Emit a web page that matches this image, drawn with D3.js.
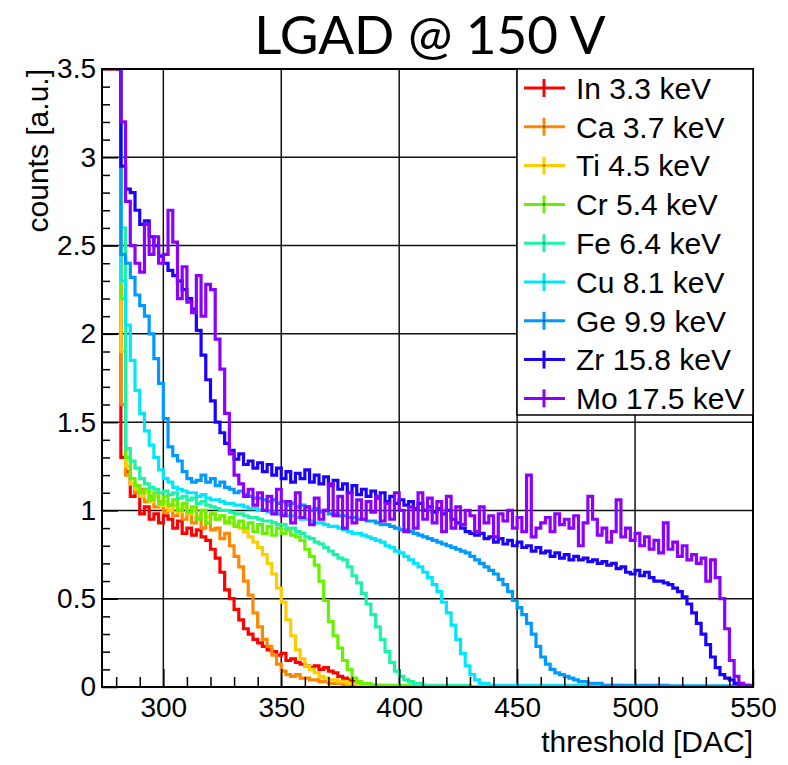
<!DOCTYPE html>
<html>
<head>
  <meta charset="UTF-8">
  <title>LGAD @ 150 V</title>
  <script src="https://d3js.org/d3.v7.min.js"></script>
  <style>
    body {
      margin: 0;
      padding: 0;
      background: #fff;
    }
    svg text {
      font-family: "Liberation Sans", Arial, sans-serif;
      fill: #000;
    }
    .title {
      font-family: Lato, "Open Sans", sans-serif !important;
      font-size: 53px;
    }
    .tick text {
      font-size: 28px;
    }
    .axis-title {
      font-size: 30px;
    }
    .legend text {
      font-size: 30px;
    }
    .grid line {
      stroke: #111;
      stroke-width: 1.5;
    }
    .hist {
      fill: none;
      stroke-width: 3.2;
      stroke-linejoin: miter;
    }
  </style>
</head>
<body>
  <div id="chart"></div>

  <script>
    // histogram binning: 2 DAC wide bins starting at 274
    const binStart = 274;
    const binWidth = 2;
    const xDomain = [274, 550];
    const yDomain = [0, 3.5];

    const labels = ["In 3.3 keV", "Ca 3.7 keV", "Ti 4.5 keV", "Cr 5.4 keV", "Fe 6.4 keV",
                    "Cu 8.1 keV", "Ge 9.9 keV", "Zr 15.8 keV", "Mo 17.5 keV"];
    const colors = ["#ff0000", "#ff8800", "#ffcc00", "#66f200", "#1ef2a8",
                    "#00e6ff", "#0099ff", "#1a00ff", "#8c00ff"];

    const xMajorTicks = [300, 350, 400, 450, 500, 550];
    const yMajorTicks = [0, 0.5, 1, 1.5, 2, 2.5, 3, 3.5];

    const inValues = [
      5, 5, 5, 5, 1.3, 1.22, 1.08, 1.12, 0.98, 1.02,
      0.95, 0.98, 0.93, 0.97, 0.95, 0.9, 0.94, 0.87, 0.9, 0.86,
      0.89, 0.85, 0.83, 0.78, 0.73, 0.65, 0.55, 0.5, 0.44, 0.38,
      0.33, 0.3, 0.27, 0.25, 0.23, 0.21, 0.2, 0.18, 0.19, 0.15,
      0.16, 0.14, 0.13, 0.12, 0.11, 0.12, 0.1, 0.11, 0.09, 0.08,
      0.06, 0.05, 0.04, 0.03, 0.02, 0.01, 0.01, 0.01, 0, 0,
      0, 0, 0, 0, 0, 0, 0, 0, 0, 0,
      0, 0, 0, 0, 0, 0, 0, 0, 0, 0,
      0, 0, 0, 0, 0, 0, 0, 0, 0, 0,
      0, 0, 0, 0, 0, 0, 0, 0, 0, 0,
      0, 0, 0, 0, 0, 0, 0, 0, 0, 0,
      0, 0, 0, 0, 0, 0, 0, 0, 0, 0,
      0, 0, 0, 0, 0, 0, 0, 0, 0, 0,
      0, 0, 0, 0, 0, 0, 0, 0
    ];

    const caValues = [
      null, null, null, 5, 1.6, 1.2, 1.15, 1.1, 1.12, 1.05,
      1.08, 1.02, 1.05, 0.99, 1.03, 0.97, 1.0, 0.95, 0.98, 0.93,
      0.96, 0.9, 0.93, 0.89, 0.9, 0.84, 0.87, 0.8, 0.74, 0.68,
      0.6, 0.52, 0.42, 0.34, 0.27, 0.23, 0.18, 0.13, 0.09, 0.07,
      0.06, 0.07, 0.05, 0.05, 0.04, 0.04, 0.03, 0.03, 0.02, 0.02,
      0.02, 0.01, 0.01, 0.01, 0.01, 0.01, 0.01, 0.01, 0.01, 0,
      0, 0, 0, 0, 0, 0, 0, 0, 0, 0,
      0, 0, 0, 0, 0, 0, 0, 0, 0, 0,
      0, 0, 0, 0, 0, 0, 0, 0, 0, 0,
      0, 0, 0, 0, 0, 0, 0, 0, 0, 0,
      0, 0, 0, 0, 0, 0, 0, 0, 0, 0,
      0, 0, 0, 0, 0, 0, 0, 0, 0, 0,
      0, 0, 0, 0, 0, 0, 0, 0, 0, 0,
      0, 0, 0, 0, 0, 0, 0, 0
    ];

    const tiValues = [
      null, null, null, 5, 1.9, 1.25, 1.15, 1.12, 1.08, 1.1,
      1.05, 1.08, 1.03, 1.05, 1.0, 1.03, 0.99, 1.02, 0.98, 1.0,
      0.97, 1.0, 0.96, 0.98, 0.95, 0.97, 0.94, 0.93, 0.92, 0.9,
      0.88, 0.85, 0.82, 0.79, 0.75, 0.7, 0.64, 0.56, 0.48, 0.38,
      0.29, 0.21, 0.16, 0.12, 0.1, 0.08, 0.06, 0.05, 0.04, 0.04,
      0.03, 0.03, 0.02, 0.02, 0.01, 0.01, 0.01, 0.01, 0.01, 0.01,
      0.01, 0.01, 0.01, 0, 0, 0, 0, 0, 0, 0,
      0, 0, 0, 0, 0, 0, 0, 0, 0, 0,
      0, 0, 0, 0, 0, 0, 0, 0, 0, 0,
      0, 0, 0, 0, 0, 0, 0, 0, 0, 0,
      0, 0, 0, 0, 0, 0, 0, 0, 0, 0,
      0, 0, 0, 0, 0, 0, 0, 0, 0, 0,
      0, 0, 0, 0, 0, 0, 0, 0, 0, 0,
      0, 0, 0, 0, 0, 0, 0, 0
    ];

    const crValues = [
      null, null, null, 5, 2.2, 1.3, 1.18, 1.14, 1.1, 1.12,
      1.06, 1.1, 1.04, 1.08, 1.03, 1.06, 1.0, 1.04, 0.99, 1.02,
      0.95, 1.0, 0.93, 0.98, 0.95, 0.97, 0.93, 0.96, 0.91, 0.94,
      0.9, 0.93, 0.88, 0.92, 0.87, 0.91, 0.86, 0.9, 0.87, 0.89,
      0.86, 0.85, 0.83, 0.78, 0.74, 0.69, 0.6, 0.49, 0.37, 0.29,
      0.22, 0.15, 0.1, 0.05, 0.03, 0.02, 0.02, 0.01, 0.01, 0.01,
      0.01, 0.01, 0.01, 0.01, 0.01, 0.01, 0.01, 0.01, 0, 0,
      0, 0, 0, 0, 0, 0, 0, 0, 0, 0,
      0, 0, 0, 0, 0, 0, 0, 0, 0, 0,
      0, 0, 0, 0, 0, 0, 0, 0, 0, 0,
      0, 0, 0, 0, 0, 0, 0, 0, 0, 0,
      0, 0, 0, 0, 0, 0, 0, 0, 0, 0,
      0, 0, 0, 0, 0, 0, 0, 0, 0, 0,
      0, 0, 0, 0, 0, 0, 0, 0
    ];

    const feValues = [
      null, null, null, 5, 2.6, 1.35, 1.28, 1.24, 1.18, 1.15,
      1.13, 1.12, 1.1, 1.11, 1.09, 1.1, 1.07, 1.08, 1.06, 1.07,
      1.04, 1.05, 1.03, 1.02, 1.01, 1.0, 1.0, 0.99, 0.98, 0.98,
      0.97, 0.96, 0.96, 0.95, 0.94, 0.94, 0.93, 0.92, 0.92, 0.9,
      0.9, 0.88, 0.87, 0.85, 0.84, 0.82, 0.81, 0.79, 0.77, 0.75,
      0.73, 0.72, 0.68, 0.63, 0.59, 0.53, 0.47, 0.41, 0.34, 0.27,
      0.2, 0.14, 0.09, 0.06, 0.04, 0.03, 0.02, 0.02, 0.01, 0.01,
      0.01, 0.01, 0.01, 0.01, 0.01, 0.01, 0.01, 0.01, 0, 0,
      0, 0, 0, 0, 0, 0, 0, 0, 0, 0,
      0, 0, 0, 0, 0, 0, 0, 0, 0, 0,
      0, 0, 0, 0, 0, 0, 0, 0, 0, 0,
      0, 0, 0, 0, 0, 0, 0, 0, 0, 0,
      0, 0, 0, 0, 0, 0, 0, 0, 0, 0,
      0, 0, 0, 0, 0, 0, 0, 0
    ];

    const cuValues = [
      null, null, null, 5, 2.3, 2.05, 1.85, 1.68, 1.55, 1.45,
      1.37, 1.3, 1.23, 1.18, 1.16, 1.13, 1.12, 1.11, 1.1, 1.1,
      1.08, 1.09, 1.07, 1.06, 1.06, 1.05, 1.04, 1.04, 1.03, 1.03,
      1.02, 1.01, 1.01, 1.0, 1.0, 0.99, 0.99, 0.98, 0.98, 0.97,
      0.97, 0.96, 0.95, 0.95, 0.94, 0.93, 0.93, 0.92, 0.91, 0.91,
      0.9, 0.89, 0.88, 0.87, 0.87, 0.86, 0.85, 0.84, 0.83, 0.82,
      0.8, 0.79, 0.77, 0.76, 0.74, 0.72, 0.7, 0.68, 0.65, 0.62,
      0.58, 0.54, 0.48, 0.42, 0.35, 0.27, 0.19, 0.12, 0.07, 0.04,
      0.02, 0.02, 0.01, 0.01, 0.01, 0.01, 0.01, 0.01, 0.01, 0.01,
      0.01, 0.01, 0.01, 0.01, 0.01, 0.01, 0.01, 0.01, 0.01, 0.01,
      0.01, 0.01, 0.01, 0.01, 0.01, 0.01, 0.01, 0.01, 0.01, 0.01,
      0.005, 0.005, 0.005, 0.005, 0.005, 0.005, 0.005, 0.005, 0.005, 0.005,
      0.005, 0.005, 0.005, 0.005, 0.005, 0.005, 0.005, 0.005, 0.005, 0.005,
      0.005, 0.005, 0.005, 0.005, 0.005, 0.005, 0.005, 0.005
    ];

    const geValues = [
      null, null, null, 5, 2.45, 2.4, 2.32, 2.22, 2.16, 2.1,
      2.0, 1.86, 1.72, 1.52, 1.36, 1.31, 1.28, 1.22, 1.18, 1.16,
      1.17, 1.2, 1.16, 1.18, 1.14, 1.16, 1.13, 1.12, 1.1, 1.11,
      1.09, 1.08, 1.07, 1.07, 1.06, 1.05, 1.06, 1.04, 1.05, 1.03,
      1.04, 1.02, 1.03, 1.02, 1.0, 1.01, 0.99, 1.0, 0.98, 0.98,
      0.97, 0.97, 0.96, 0.96, 0.95, 0.95, 0.94, 0.94, 0.93, 0.92,
      0.92, 0.91, 0.9, 0.89, 0.89, 0.88, 0.87, 0.86, 0.85, 0.84,
      0.83, 0.82, 0.81, 0.8, 0.79, 0.78, 0.77, 0.76, 0.74, 0.72,
      0.7, 0.68, 0.66, 0.64, 0.61, 0.58, 0.54, 0.49, 0.45, 0.41,
      0.36, 0.3, 0.23, 0.17, 0.13, 0.1, 0.08, 0.07, 0.06, 0.05,
      0.04, 0.03, 0.03, 0.02, 0.02, 0.02, 0.01, 0.01, 0.01, 0.01,
      0.01, 0.01, 0.01, 0.01, 0.01, 0.01, 0.01, 0.01, 0.01, 0.01,
      0.005, 0.005, 0.005, 0.005, 0.005, 0.005, 0.005, 0.005, 0.005, 0.005,
      0.005, 0.005, 0.005, 0.005, 0.005, 0.005, 0.005, 0.005
    ];

    const zrValues = [
      null, null, null, 5, 2.95, 2.82, 2.8, 2.7, 2.62, 2.64,
      2.55, 2.5, 2.44, 2.4, 2.36, 2.33, 2.3, 2.25, 2.2, 2.14,
      2.02, 1.88, 1.74, 1.62, 1.5, 1.44, 1.38, 1.34, 1.29, 1.32,
      1.26, 1.28, 1.24, 1.27, 1.22, 1.26, 1.2, 1.24, 1.18, 1.22,
      1.16, 1.21, 1.18, 1.23, 1.16, 1.2, 1.15, 1.19, 1.14, 1.17,
      1.12, 1.15, 1.1, 1.14, 1.09, 1.12, 1.08, 1.11, 1.07, 1.1,
      1.05, 1.08, 1.04, 1.06, 1.03, 1.05, 1.01, 1.04, 1.0, 1.02,
      0.99, 1.01, 0.98, 1.0, 0.95, 0.93, 0.9, 0.88, 0.87, 0.86,
      0.87, 0.84, 0.85, 0.82, 0.84, 0.81, 0.83, 0.8, 0.82, 0.79,
      0.8, 0.77, 0.79, 0.76, 0.77, 0.74, 0.76, 0.73, 0.75, 0.72,
      0.74, 0.72, 0.73, 0.71, 0.72, 0.7, 0.71, 0.69, 0.7, 0.67,
      0.68, 0.65, 0.64, 0.66, 0.63, 0.65, 0.62, 0.6, 0.6, 0.59,
      0.58, 0.56, 0.54, 0.51, 0.47, 0.42, 0.36, 0.3, 0.24, 0.17,
      0.11, 0.07, 0.05, 0.04, 0.02, 0.01, 0.01, 0
    ];

    const moValues = [
      null, null, null, 5, 3.2, 2.75, 2.5, 2.4, 2.35, 2.62,
      2.45, 2.55, 2.4, 2.45, 2.7, 2.52, 2.2, 2.38, 2.18, 2.12,
      2.33, 2.1, 2.28, 2.25, 1.97, 1.8, 1.55, 1.32, 1.2, 1.15,
      1.08, 1.12, 1.03, 1.1, 1.0, 1.08, 0.98, 1.12, 0.97, 1.05,
      0.93, 1.1, 0.96, 1.02, 0.92, 1.07, 0.95, 1.0, 1.15, 0.97,
      1.08, 0.9, 1.1, 0.93, 1.06, 0.95, 1.05, 0.99, 1.08, 0.94,
      1.04, 0.95, 1.1, 1.0, 0.88, 1.02, 0.9, 1.1, 0.95, 1.07,
      0.93, 1.05, 0.88, 1.08, 0.9, 1.02, 0.92, 1.0, 0.97, 0.88,
      1.02, 0.93, 0.97, 0.85, 0.98, 0.94, 1.0, 0.9, 0.96, 0.88,
      1.2, 0.85, 0.9, 0.93, 0.96, 0.88, 0.98, 0.92, 0.95, 0.9,
      0.97, 0.8, 0.93, 1.08, 0.95, 0.86, 0.9, 0.82, 0.88, 1.06,
      0.85, 0.9, 0.83, 0.87, 0.8, 0.85, 0.78, 0.83, 0.76, 0.93,
      0.78, 0.82, 0.74, 0.8, 0.72, 0.75, 0.7, 0.73, 0.6, 0.72,
      0.62, 0.5, 0.33, 0.15, 0.06, 0.02, 0.01, 0.01
    ];

    const seriesValues = [inValues, caValues, tiValues, crValues, feValues,
                          cuValues, geValues, zrValues, moValues];

    const width = 788;
    const height = 765;
    const margin = { top: 69, right: 35, bottom: 78, left: 102 };
    const plotW = width - margin.left - margin.right;
    const plotH = height - margin.top - margin.bottom;

    const svg = d3.select("#chart").append("svg")
      .attr("width", width)
      .attr("height", height);

    const g = svg.append("g")
      .attr("transform", `translate(${margin.left},${margin.top})`);

    const x = d3.scaleLinear().domain(xDomain).range([0, plotW]);
    const y = d3.scaleLinear().domain(yDomain).range([plotH, 0]);

    // grid
    const grid = g.append("g").attr("class", "grid");
    grid.selectAll(".gx")
      .data(xMajorTicks.filter(d => d < xDomain[1]))
      .enter().append("line")
      .attr("x1", d => x(d)).attr("x2", d => x(d))
      .attr("y1", 0).attr("y2", plotH);
    grid.selectAll(".gy")
      .data(yMajorTicks.filter(d => d > yDomain[0] && d < yDomain[1]))
      .enter().append("line")
      .attr("x1", 0).attr("x2", plotW)
      .attr("y1", d => y(d)).attr("y2", d => y(d));

    // histograms
    svg.append("defs").append("clipPath").attr("id", "plot-clip")
      .append("rect").attr("width", plotW).attr("height", plotH);

    const line = d3.line()
      .defined(d => d.v !== null)
      .curve(d3.curveStepAfter)
      .x(d => x(d.x))
      .y(d => y(Math.min(d.v, yDomain[1])));

    const histG = g.append("g").attr("clip-path", "url(#plot-clip)");
    seriesValues.forEach((vals, k) => {
      const pts = vals.map((v, i) => ({ x: binStart + i * binWidth, v: v }));
      pts.push({ x: binStart + vals.length * binWidth, v: vals[vals.length - 1] });
      histG.append("path")
        .datum(pts)
        .attr("class", "hist")
        .attr("stroke", colors[k])
        .attr("d", line);
    });

    // frame
    g.append("rect")
      .attr("width", plotW)
      .attr("height", plotH)
      .attr("fill", "none")
      .attr("stroke", "#000")
      .attr("stroke-width", 2);

    // axes (ticks pointing inside, ROOT style)
    const xMinor = d3.range(280, 550, 10).filter(d => !xMajorTicks.includes(d));
    g.append("g")
      .attr("transform", `translate(0,${plotH})`)
      .call(d3.axisBottom(x).tickValues(xMinor).tickSize(-10).tickFormat(""))
      .call(a => a.select(".domain").remove())
      .call(a => a.selectAll("line").attr("stroke", "#000").attr("stroke-width", 1.5));

    g.append("g")
      .attr("transform", `translate(0,${plotH})`)
      .call(d3.axisBottom(x).tickValues(xMajorTicks).tickSize(-18).tickPadding(10).tickFormat(d3.format("d")))
      .call(a => a.select(".domain").remove())
      .call(a => a.selectAll("line").attr("stroke", "#000").attr("stroke-width", 1.5));

    const yMinor = d3.range(0.1, 3.5, 0.1).map(d => +d.toFixed(1)).filter(d => !yMajorTicks.includes(d));
    g.append("g")
      .call(d3.axisLeft(y).tickValues(yMinor).tickSize(-8).tickFormat(""))
      .call(a => a.select(".domain").remove())
      .call(a => a.selectAll("line").attr("stroke", "#000").attr("stroke-width", 1.5));

    g.append("g")
      .call(d3.axisLeft(y).tickValues(yMajorTicks).tickSize(-16).tickPadding(6).tickFormat(d => d))
      .call(a => a.select(".domain").remove())
      .call(a => a.selectAll("line").attr("stroke", "#000").attr("stroke-width", 1.5));

    g.selectAll(".tick text").attr("font-family", "Liberation Sans, Arial, sans-serif");

    // axis titles
    svg.append("text")
      .attr("class", "axis-title")
      .attr("x", margin.left + plotW)
      .attr("y", 752)
      .attr("text-anchor", "end")
      .text("threshold [DAC]");

    svg.append("text")
      .attr("class", "axis-title")
      .attr("transform", `translate(48,${margin.top}) rotate(-90)`)
      .attr("text-anchor", "end")
      .text("counts [a.u.]");

    // title
    svg.append("text")
      .attr("class", "title")
      .attr("x", 430)
      .attr("y", 54)
      .attr("text-anchor", "middle")
      .text("LGAD @ 150 V");

    // legend
    const legend = svg.append("g").attr("class", "legend");
    legend.append("rect")
      .attr("x", 517).attr("y", margin.top)
      .attr("width", margin.left + plotW - 517)
      .attr("height", 346)
      .attr("fill", "#fff")
      .attr("stroke", "#000")
      .attr("stroke-width", 1.5);

    const rows = legend.selectAll(".row")
      .data(labels)
      .enter().append("g")
      .attr("class", "row")
      .attr("transform", (d, i) => `translate(544,${88 + i * 38.8})`);

    rows.append("line")
      .attr("x1", -20).attr("x2", 21).attr("y1", 0).attr("y2", 0)
      .attr("stroke", (d, i) => colors[i]).attr("stroke-width", 3);
    rows.append("line")
      .attr("x1", 0).attr("x2", 0).attr("y1", -9).attr("y2", 9)
      .attr("stroke", (d, i) => colors[i]).attr("stroke-width", 3);
    rows.append("circle")
      .attr("r", 0.8).attr("fill", "#000");
    rows.append("text")
      .attr("x", 32)
      .attr("dy", "0.36em")
      .text(d => d);
  </script>
</body>
</html>
